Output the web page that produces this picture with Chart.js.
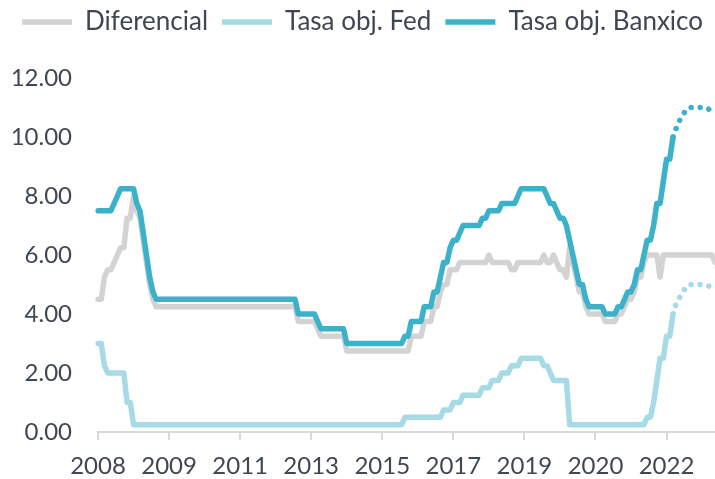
<!DOCTYPE html>
<html>
<head>
<meta charset="utf-8">
<script src="https://cdn.jsdelivr.net/npm/chart.js@4.4.1/dist/chart.umd.min.js"></script>
<style>
  html, body { margin: 0; padding: 0; background: #fff; }
</style>
</head>
<body>
<canvas id="c" width="715" height="479"></canvas>
<script>
// tasas objetivo mensuales, ene-2008 a dic-2023 (dic-2022 en adelante = pronóstico)
const FIRST_YEAR = 2008;
const N_MONTHS = 192;
const FORECAST_FROM = 178;   // nov-2022, último dato observado
const TICK_STEP = 22;        // etiqueta del eje x cada 22 meses

const banxico = [
  7.50, 7.50, 7.50, 7.50, 7.50, 7.75, 8.00, 8.25, 8.25, 8.25, 8.25, 8.25, // 2008
  7.75, 7.50, 6.75, 6.00, 5.25, 4.75, 4.50, 4.50, 4.50, 4.50, 4.50, 4.50, // 2009
  4.50, 4.50, 4.50, 4.50, 4.50, 4.50, 4.50, 4.50, 4.50, 4.50, 4.50, 4.50, // 2010
  4.50, 4.50, 4.50, 4.50, 4.50, 4.50, 4.50, 4.50, 4.50, 4.50, 4.50, 4.50, // 2011
  4.50, 4.50, 4.50, 4.50, 4.50, 4.50, 4.50, 4.50, 4.50, 4.50, 4.50, 4.50, // 2012
  4.50, 4.50, 4.00, 4.00, 4.00, 4.00, 4.00, 4.00, 3.75, 3.50, 3.50, 3.50, // 2013
  3.50, 3.50, 3.50, 3.50, 3.50, 3.00, 3.00, 3.00, 3.00, 3.00, 3.00, 3.00, // 2014
  3.00, 3.00, 3.00, 3.00, 3.00, 3.00, 3.00, 3.00, 3.00, 3.00, 3.00, 3.25, // 2015
  3.25, 3.75, 3.75, 3.75, 3.75, 4.25, 4.25, 4.25, 4.75, 4.75, 5.25, 5.75, // 2016
  5.75, 6.25, 6.50, 6.50, 6.75, 7.00, 7.00, 7.00, 7.00, 7.00, 7.00, 7.25, // 2017
  7.25, 7.50, 7.50, 7.50, 7.50, 7.75, 7.75, 7.75, 7.75, 7.75, 8.00, 8.25, // 2018
  8.25, 8.25, 8.25, 8.25, 8.25, 8.25, 8.25, 8.00, 7.75, 7.75, 7.50, 7.25, // 2019
  7.25, 7.00, 6.50, 6.00, 5.50, 5.00, 5.00, 4.50, 4.25, 4.25, 4.25, 4.25, // 2020
  4.25, 4.00, 4.00, 4.00, 4.00, 4.25, 4.25, 4.50, 4.75, 4.75, 5.00, 5.50, // 2021
  5.50, 6.00, 6.50, 6.50, 7.00, 7.75, 7.75, 8.50, 9.25, 9.25, 10.00, 10.30, // 2022
  10.55, 10.75, 10.90, 11.00, 11.00, 11.00, 11.00, 11.00, 11.00, 10.95, 10.85, 10.75 // 2023
];

const fed = [
  3.00, 3.00, 2.25, 2.00, 2.00, 2.00, 2.00, 2.00, 2.00, 1.00, 1.00, 0.25, // 2008
  0.25, 0.25, 0.25, 0.25, 0.25, 0.25, 0.25, 0.25, 0.25, 0.25, 0.25, 0.25, // 2009
  0.25, 0.25, 0.25, 0.25, 0.25, 0.25, 0.25, 0.25, 0.25, 0.25, 0.25, 0.25, // 2010
  0.25, 0.25, 0.25, 0.25, 0.25, 0.25, 0.25, 0.25, 0.25, 0.25, 0.25, 0.25, // 2011
  0.25, 0.25, 0.25, 0.25, 0.25, 0.25, 0.25, 0.25, 0.25, 0.25, 0.25, 0.25, // 2012
  0.25, 0.25, 0.25, 0.25, 0.25, 0.25, 0.25, 0.25, 0.25, 0.25, 0.25, 0.25, // 2013
  0.25, 0.25, 0.25, 0.25, 0.25, 0.25, 0.25, 0.25, 0.25, 0.25, 0.25, 0.25, // 2014
  0.25, 0.25, 0.25, 0.25, 0.25, 0.25, 0.25, 0.25, 0.25, 0.25, 0.25, 0.50, // 2015
  0.50, 0.50, 0.50, 0.50, 0.50, 0.50, 0.50, 0.50, 0.50, 0.50, 0.50, 0.75, // 2016
  0.75, 0.75, 1.00, 1.00, 1.00, 1.25, 1.25, 1.25, 1.25, 1.25, 1.25, 1.50, // 2017
  1.50, 1.50, 1.75, 1.75, 1.75, 2.00, 2.00, 2.00, 2.25, 2.25, 2.25, 2.50, // 2018
  2.50, 2.50, 2.50, 2.50, 2.50, 2.50, 2.25, 2.25, 2.00, 1.75, 1.75, 1.75, // 2019
  1.75, 1.75, 0.25, 0.25, 0.25, 0.25, 0.25, 0.25, 0.25, 0.25, 0.25, 0.25, // 2020
  0.25, 0.25, 0.25, 0.25, 0.25, 0.25, 0.25, 0.25, 0.25, 0.25, 0.25, 0.25, // 2021
  0.25, 0.25, 0.50, 0.50, 1.00, 1.75, 2.50, 2.50, 3.25, 3.25, 4.00, 4.35, // 2022
  4.55, 4.75, 4.90, 5.00, 5.00, 5.00, 5.00, 5.00, 5.00, 4.95, 4.90, 4.85  // 2023
];

const diferencial = [
  4.50, 4.50, 5.25, 5.50, 5.50, 5.75, 6.00, 6.25, 6.25, 7.25, 7.25, 8.00, // 2008
  7.50, 7.25, 6.50, 5.75, 5.00, 4.50, 4.25, 4.25, 4.25, 4.25, 4.25, 4.25, // 2009
  4.25, 4.25, 4.25, 4.25, 4.25, 4.25, 4.25, 4.25, 4.25, 4.25, 4.25, 4.25, // 2010
  4.25, 4.25, 4.25, 4.25, 4.25, 4.25, 4.25, 4.25, 4.25, 4.25, 4.25, 4.25, // 2011
  4.25, 4.25, 4.25, 4.25, 4.25, 4.25, 4.25, 4.25, 4.25, 4.25, 4.25, 4.25, // 2012
  4.25, 4.25, 3.75, 3.75, 3.75, 3.75, 3.75, 3.75, 3.50, 3.25, 3.25, 3.25, // 2013
  3.25, 3.25, 3.25, 3.25, 3.25, 2.75, 2.75, 2.75, 2.75, 2.75, 2.75, 2.75, // 2014
  2.75, 2.75, 2.75, 2.75, 2.75, 2.75, 2.75, 2.75, 2.75, 2.75, 2.75, 2.75, // 2015
  2.75, 3.25, 3.25, 3.25, 3.25, 3.75, 3.75, 3.75, 4.25, 4.25, 4.75, 5.00, // 2016
  5.00, 5.50, 5.50, 5.50, 5.75, 5.75, 5.75, 5.75, 5.75, 5.75, 5.75, 5.75, // 2017
  5.75, 6.00, 5.75, 5.75, 5.75, 5.75, 5.75, 5.75, 5.50, 5.50, 5.75, 5.75, // 2018
  5.75, 5.75, 5.75, 5.75, 5.75, 5.75, 6.00, 5.75, 5.75, 6.00, 5.75, 5.50, // 2019
  5.50, 5.25, 6.25, 5.75, 5.25, 4.75, 4.75, 4.25, 4.00, 4.00, 4.00, 4.00, // 2020
  4.00, 3.75, 3.75, 3.75, 3.75, 4.00, 4.00, 4.25, 4.50, 4.50, 4.75, 5.25, // 2021
  5.25, 5.75, 6.00, 6.00, 6.00, 6.00, 5.25, 6.00, 6.00, 6.00, 6.00, 6.00, // 2022
  6.00, 6.00, 6.00, 6.00, 6.00, 6.00, 6.00, 6.00, 6.00, 6.00, 6.00, 5.75  // 2023
];

const labels = [];
for (let i = 0; i < N_MONTHS; i++) {
  const y = FIRST_YEAR + Math.floor(i / 12);
  const m = (i % 12) + 1;
  labels.push(y + '-' + String(m).padStart(2, '0'));
}

const TEXT = '#3F4753';
const AXIS = '#D9D9D9';
const FONT = 'Lato';

// tramo punteado del pronóstico
const dotted = (ctx) => (ctx.p0DataIndex >= FORECAST_FROM ? [0.01, 9] : undefined);

function lineSet(label, data, color, order, forecastDots) {
  return {
    label,
    data,
    order,
    borderColor: color,
    backgroundColor: color,
    borderWidth: 5.5,
    borderCapStyle: 'round',
    borderJoinStyle: 'round',
    pointRadius: 0,
    pointHoverRadius: 0,
    tension: 0,
    fill: false,
    segment: forecastDots ? { borderDash: dotted } : {}
  };
}

// más aire entre la leyenda y el área del gráfico, y leyenda un poco a la derecha
const legendGap = {
  id: 'legendGap',
  beforeInit(chart) {
    const fit = chart.legend.fit;
    chart.legend.fit = function () {
      fit.call(this);
      this.height += 33;
    };
  },
  afterLayout(chart) {
    chart.legend.left += 5;
    chart.legend.right += 5;
  }
};

new Chart(document.getElementById('c').getContext('2d'), {
  type: 'line',
  data: {
    labels,
    datasets: [
      lineSet('Diferencial', diferencial, '#D3D3D3', 3, false),
      lineSet('Tasa obj. Fed', fed, '#A6DAE6', 2, true),
      lineSet('Tasa obj. Banxico', banxico, '#3BB1CA', 1, true)
    ]
  },
  plugins: [legendGap],
  options: {
    responsive: false,
    animation: false,
    layout: { padding: { top: -5, right: 0, bottom: 0, left: 0 } },
    plugins: {
      legend: {
        position: 'top',
        labels: {
          usePointStyle: true,
          pointStyle: 'line',
          pointStyleWidth: 50,
          boxHeight: 26,
          padding: 14,
          color: TEXT,
          font: { family: FONT, size: 26 },
          sort: (a, b) => a.datasetIndex - b.datasetIndex
        }
      },
      tooltip: { enabled: false }
    },
    scales: {
      x: {
        type: 'category',
        afterBuildTicks: (scale) => {
          scale.ticks = scale.ticks.filter((t) => t.value % TICK_STEP === 0);
        },
        afterFit: (scale) => { scale.height = 47; },
        ticks: {
          autoSkip: false,
          maxRotation: 0,
          padding: 12,
          color: TEXT,
          font: { family: FONT, size: 24 },
          callback: function (value) { return this.getLabelForValue(value).slice(0, 4); }
        },
        grid: { display: true, drawOnChartArea: false, drawTicks: true, tickLength: 8, color: AXIS, lineWidth: 2 },
        border: { display: true, color: AXIS, width: 2 }
      },
      y: {
        min: 0,
        max: 12,
        afterFit: (scale) => { scale.width = 98; },
        ticks: {
          stepSize: 2,
          padding: 26,
          color: TEXT,
          font: { family: FONT, size: 24 },
          callback: (v) => v.toFixed(2)
        },
        grid: { display: false, drawTicks: false },
        border: { display: false }
      }
    }
  }
});
</script>
</body>
</html>
